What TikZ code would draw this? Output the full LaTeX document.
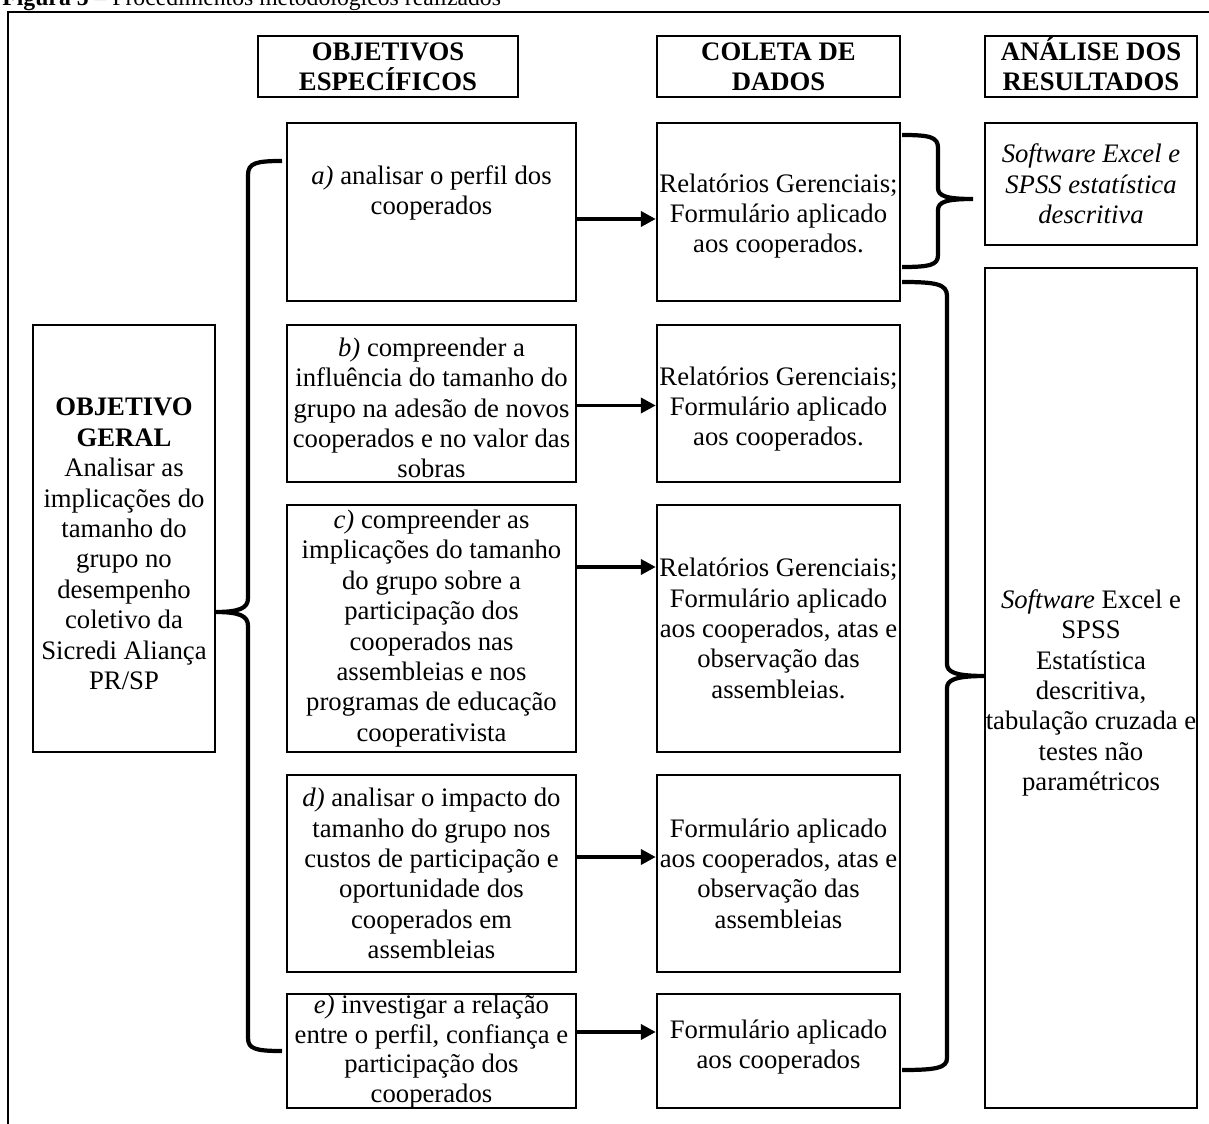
\documentclass[tikz,border=0pt]{standalone}
\usepackage{fontspec}
\setmainfont{Liberation Serif}
\usetikzlibrary{arrows.meta,calc}
\newcommand{\bodysize}{\fontsize{15.2}{17.3}\selectfont}

\begin{document}
\begin{tikzpicture}[x=0.02cm,y=-0.02cm,
    box/.style={draw, line width=1.4pt, inner sep=0pt, align=center, font=\bodysize},
    txt/.style={inner sep=0pt, align=center, font=\bodysize},
    head/.style={box, font=\bodysize\bfseries, minimum height=1.22cm},
    link/.style={line width=2.2pt, -{Triangle[length=0.3cm,width=0.3cm]}},
    brace/.style={line width=2.4pt}]
    \useasboundingbox (0,0) rectangle (1209,1124);

    % caption and frame
    \node[anchor=base west, inner sep=0pt, font=\fontsize{13.5}{15}\selectfont] (cap) at (2,6) {\textbf{Figura 5} – Procedimentos metodológicos realizados};
    \draw[line width=1.6pt] (8,1140) -- (8,12) -- (1220,12);

    % headers
    \node[head, minimum width=5.2cm] (hobj) at (388,66.5) {OBJETIVOS\\ESPECÍFICOS};
    \node[head, minimum width=4.86cm] (hcol) at (778.5,66.5) {COLETA DE\\DADOS};
    \node[head, minimum width=4.24cm] (hana) at (1091,66.5) {AN\smash{Á}LISE DOS\\RESULTADOS};

    % objetivo geral
    \node[box, minimum width=3.64cm, minimum height=8.54cm] (og) at (124,538.5) {};
    \node[txt] (tg) at (124,544) {\textbf{OBJETIVO}\\\textbf{GERAL}\\Analisar as\\implicações do\\tamanho do\\grupo no\\desempenho\\coletivo da\\Sicredi Aliança\\PR/SP};

    % objetivos especificos
    \node[box, minimum width=5.78cm, minimum height=3.56cm] (oa) at (431.5,212) {};
    \node[txt] (ta) at (431.5,193) {\textit{a)} analisar o perfil dos\\cooperados};
    \node[box, minimum width=5.78cm, minimum height=3.14cm] (ob) at (431.5,403.5) {};
    \node[txt] (tb) at (431.5,408) {\textit{b)} compreender a\\influência do tamanho do\\grupo na adesão de novos\\cooperados e no valor das\\sobras};
    \node[box, minimum width=5.78cm, minimum height=4.94cm] (oc) at (431.5,628.5) {\textit{c)} compreender as\\implicações do tamanho\\do grupo sobre a\\participação dos\\cooperados nas\\assembleias e nos\\programas de educação\\cooperativista};
    \node[box, minimum width=5.78cm, minimum height=3.94cm] (od) at (431.5,873.5) {\textit{d)} analisar o impacto do\\tamanho do grupo nos\\custos de participação e\\oportunidade dos\\cooperados em\\assembleias};
    \node[box, minimum width=5.78cm, minimum height=2.28cm] (oe) at (431.5,1051) {};
    \node[txt, font=\fontsize{15.2}{16.8}\selectfont] (te) at (431.5,1051.5) {\textit{e)} investigar a relação\\entre o perfil, confiança e\\participação dos\\cooperados};

    % coleta de dados
    \node[box, minimum width=4.86cm, minimum height=3.56cm] (ca) at (778.5,212) {};
    \node[txt] (tca) at (778.5,216) {Relatórios Gerenciais;\\Formulário aplicado\\aos cooperados.};
    \node[box, minimum width=4.86cm, minimum height=3.14cm] (cb) at (778.5,403.5) {};
    \node[txt] (tcb) at (778.5,409) {Relatórios Gerenciais;\\Formulário aplicado\\aos cooperados.};
    \node[box, minimum width=4.86cm, minimum height=4.94cm] (cc) at (778.5,628.5) {Relatórios Gerenciais;\\Formulário aplicado\\aos cooperados, atas e\\observação das\\assembleias.};
    \node[box, minimum width=4.86cm, minimum height=3.94cm] (cd) at (778.5,873.5) {Formulário aplicado\\aos cooperados, atas e\\observação das\\assembleias};
    \node[box, minimum width=4.86cm, minimum height=2.28cm] (ce) at (778.5,1051) {};
    \node[txt] (tce) at (778.5,1047) {Formulário aplicado\\aos cooperados};

    % analise dos resultados
    \node[box, minimum width=4.24cm, minimum height=2.44cm] (aa) at (1091,184) {\textit{Software Excel e}\\\textit{SPSS estatística}\\\textit{descritiva}};
    \node[box, minimum width=4.24cm, minimum height=16.8cm] (ab) at (1091,688) {};
    \node[txt] (tab) at (1091,693) {\textit{Software} Excel e\\SPSS\\Estatística\\descritiva,\\tabulação cruzada e\\testes não\\paramétricos};

    % arrows
    \draw[link] ($(oa.east)+(0,7)$) -- ($(ca.west)+(0,7)$);
    \draw[link] ($(ob.east)+(0,2)$) -- ($(cb.west)+(0,2)$);
    \draw[link] ($(oc.east)+(0,-61.5)$) -- ($(cc.west)+(0,-61.5)$);
    \draw[link] ($(od.east)+(0,-16.5)$) -- ($(cd.west)+(0,-16.5)$);
    \draw[link] ($(oe.east)+(0,-19)$) -- ($(ce.west)+(0,-19)$);

    % braces
    \draw[brace] (282,161) .. controls (256,161) and (248,163) .. (248,175) -- (248,598)
        .. controls (248,608) and (240,612) .. (215,612)
        .. controls (240,612) and (248,616) .. (248,626) -- (248,1038)
        .. controls (248,1049) and (256,1051) .. (282,1051);
    \draw[brace] (902,135) .. controls (930,135) and (938,137) .. (938,148) -- (938,188)
        .. controls (938,196) and (946,199) .. (973,199)
        .. controls (946,199) and (938,202) .. (938,210) -- (938,255)
        .. controls (938,265) and (930,267) .. (902,267);
    \draw[brace] (902,282) .. controls (936,282) and (947,284) .. (947,296) -- (947,664)
        .. controls (947,672) and (955,676) .. (985,676)
        .. controls (955,676) and (947,680) .. (947,688) -- (947,1058)
        .. controls (947,1068) and (936,1070) .. (902,1070);
\end{tikzpicture}
\end{document}
